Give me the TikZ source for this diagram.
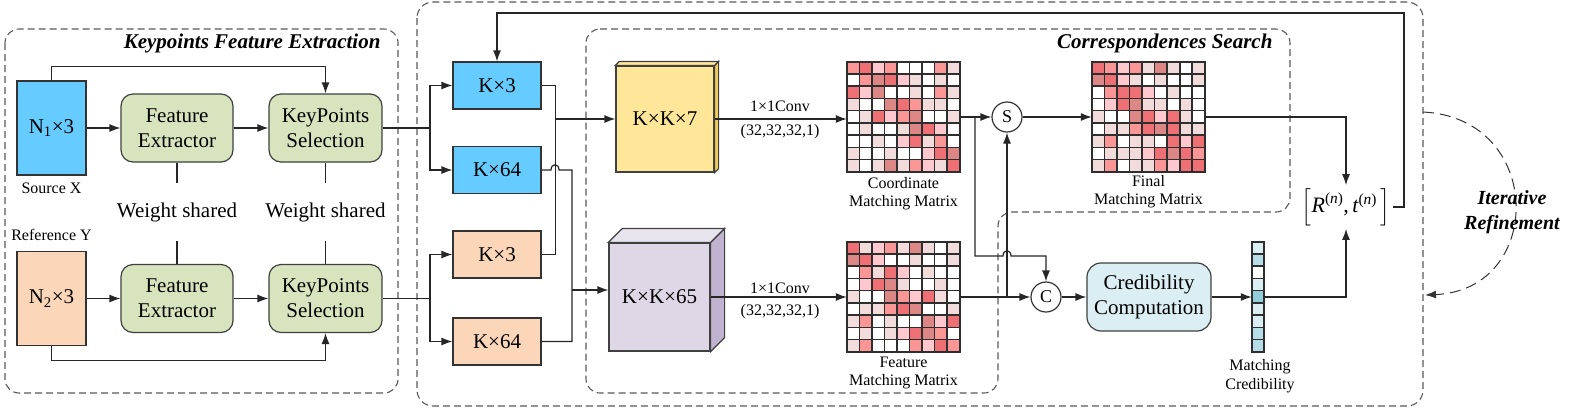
\documentclass[tikz,border=0pt]{standalone}
\usepackage{amsmath}
\usepackage{fontspec}
\setmainfont{Liberation Serif}
\usepackage{tikz}
\usetikzlibrary{arrows,arrows.meta,calc,shapes}
\tikzset{>={Latex[length=11pt,width=8pt]}}
\definecolor{srcblue}{HTML}{66CCFF}
\definecolor{refpeach}{HTML}{FBD6B8}
\definecolor{modgreen}{HTML}{D7E4BD}
\definecolor{cubeyellow}{HTML}{FFE699}
\definecolor{cubeedge}{HTML}{F2CC5C}
\definecolor{cubefront}{HTML}{DDD7E6}
\definecolor{cubeside}{HTML}{BFB3CF}
\definecolor{cubetop}{HTML}{E8E4EE}
\definecolor{credblue}{HTML}{DAEEF3}
\definecolor{heat0}{HTML}{FFFFFF}
\definecolor{heat1}{HTML}{F2DCDB}
\definecolor{heat2}{HTML}{FFC7CE}
\definecolor{heat3}{HTML}{FA9696}
\definecolor{heat4}{HTML}{EF7074}
\definecolor{heat5}{HTML}{DC8686}
\definecolor{vec0}{HTML}{FFFFFF}
\definecolor{vec1}{HTML}{DAEEF3}
\definecolor{vec2}{HTML}{B7DEE8}
\definecolor{vec3}{HTML}{92CDDC}
\tikzstyle{inbox}=[rectangle,draw=black!80,line width=1.2pt,minimum width=69pt,minimum height=94pt,font=\fontsize{21}{25}\selectfont]
\tikzstyle{module}=[rectangle,draw=black!75,fill=modgreen,line width=1.2pt,minimum width=112pt,minimum height=68pt,rounded corners=12pt,align=center,font=\fontsize{21}{25}\selectfont]
\tikzstyle{kbox}=[rectangle,draw=black!80,line width=1.2pt,minimum width=88pt,minimum height=47pt,font=\fontsize{21}{25}\selectfont]
\tikzstyle{cube}=[rectangle,draw=black!75,line width=1.2pt,font=\fontsize{21}{25}\selectfont]
\tikzstyle{group}=[draw=black!65,line width=1.1pt,dash pattern=on 7pt off 4pt,rounded corners=14pt]
\tikzstyle{op}=[circle,draw=black!80,fill=white,line width=1.2pt,minimum size=30pt,inner sep=0pt,font=\fontsize{18}{20}\selectfont]
\tikzstyle{small}=[align=center,font=\fontsize{16}{19}\selectfont]
\tikzstyle{title}=[font=\fontsize{21}{25}\selectfont\bfseries\itshape]
\tikzstyle{conn}=[draw=black!85,line width=1.2pt]
\tikzstyle{cell}=[draw=black!82,line width=1.6pt]
\tikzstyle{grid}=[rectangle,inner sep=0pt]
\newcommand{\cellgrid}[5]{%
  \foreach \row [count=\r from 0] in {#5} {
    \foreach \v [count=\c from 0] in \row
      \draw[cell,fill=#4\v] ([shift={(\c*#2,\r*#3)}]#1.north west) rectangle ++(#2,#3);
  }
}

\begin{document}
\begin{tikzpicture}[x=1pt,y=-1pt]
	\useasboundingbox (0,0) rectangle (1576,408);

	\draw[group] (5,29) rectangle (398,393);
	\draw[group,rounded corners=16pt] (417,2) rectangle (1423,406);
	\draw[group] (586,29) -- (1290,29) -- (1290,212) -- (998,212) -- (998,393) -- (586,393) -- cycle;
	\node[title,anchor=east] (title1) at (384,43) {Keypoints Feature Extraction};
	\node[title,anchor=east] (title2) at (1276,43) {Correspondences Search};

	\node[inbox,fill=srcblue,label={[small,label distance=4pt]below:Source X}] (source1) at (51.5,128) {N\textsubscript{1}×3};
	\node[inbox,fill=refpeach,label={[small,label distance=7pt]above:Reference Y}] (source2) at (51.5,298.5) {N\textsubscript{2}×3};
	\node[module] (extract1) at (177,128) {Feature\\Extractor};
	\node[module] (extract2) at (177,298.5) {Feature\\Extractor};
	\node[module,minimum width=113pt] (select1) at (325.5,128) {KeyPoints\\Selection};
	\node[module,minimum width=113pt] (select2) at (325.5,298.5) {KeyPoints\\Selection};
	\node[font=\fontsize{21}{25}\selectfont,inner ysep=19pt] (weight1) at (177,212) {Weight shared};
	\node[font=\fontsize{21}{25}\selectfont,inner ysep=19pt] (weight2) at (325.5,212) {Weight shared};

	\draw[conn,->] (source1) -- (extract1);
	\draw[conn,->] (extract1) -- (select1);
	\draw[conn,->] (source2) -- (extract2);
	\draw[conn,->] (extract2) -- (select2);
	\draw[conn,->] (source1.north) -- ++(0,-14) -| (select1.north);
	\draw[conn,->] (source2.south) -- ++(0,14) -| (select2.south);
	\draw[conn] (extract1) -- (weight1);
	\draw[conn] (weight1) -- (extract2);
	\draw[conn] (select1) -- (weight2);
	\draw[conn] (weight2) -- (select2);

	\node[kbox,fill=srcblue] (kb1) at (497,85.5) {K×3};
	\node[kbox,fill=srcblue] (kb2) at (497,170) {K×64};
	\node[kbox,fill=refpeach] (kp1) at (497,254.5) {K×3};
	\node[kbox,fill=refpeach] (kp2) at (497,341.5) {K×64};
	\coordinate (split1) at (430,128);
	\coordinate (split2) at (430,298.5);
	\draw[conn] (select1.east) -- (split1);
	\draw[conn,->] (split1) |- (kb1.west);
	\draw[conn,->] (split1) |- (kb2.west);
	\draw[conn] (select2.east) -- (split2);
	\draw[conn,->] (split2) |- (kp1.west);
	\draw[conn,->] (split2) |- (kp2.west);

	\node[cube,fill=cubeyellow,minimum width=98pt,minimum height=106pt] (cube1) at (665,119) {K×K×7};
	\draw[cube,fill=cubeedge] (cube1.north east) -- ++(4,-4) -- ($(cube1.south east)+(4,-4)$) -- (cube1.south east) -- cycle;
	\draw[cube,fill=cubeyellow] (cube1.north west) -- ++(4,-4) -- ($(cube1.north east)+(4,-4)$) -- (cube1.north east) -- cycle;
	\node[cube,fill=cubefront,minimum width=101pt,minimum height=108pt] (cube2) at (659.5,297) {K×K×65};
	\draw[cube,fill=cubeside] (cube2.north east) -- ++(14,-14) -- ($(cube2.south east)+(14,-14)$) -- (cube2.south east) -- cycle;
	\draw[cube,fill=cubetop] (cube2.north west) -- ++(14,-14) -- ($(cube2.north east)+(14,-14)$) -- (cube2.north east) -- cycle;

	\coordinate (join1) at (555,119);
	\coordinate (join2) at (572,290);
	\draw[conn] (kb1.east) -- ++(14,0) |- (kp1.east);
	\draw[conn] (kb2.east) -- (551,170) .. controls (551,163) and (559,163) .. (559,170) -- (572,170) |- (kp2.east);
	\draw[conn,->] (join1) -- (cube1.west);
	\draw[conn,->] (join2) -- (join2 -| cube2.west);

	\node[grid,minimum width=113pt,minimum height=110pt] (cmat) at (903.5,117) {};
	\node[grid,minimum width=113pt,minimum height=110pt] (fmat) at (903.5,297) {};
	\node[grid,minimum width=113pt,minimum height=110pt] (finmat) at (1148.5,117) {};
	\node[grid,minimum width=12pt,minimum height=110pt] (vec) at (1258,297) {};
	\cellgrid{cmat}{12.555}{12.222}{heat}{{3,4,2,3,0,0,0,3,1},{0,3,5,4,2,1,0,1,0},{4,2,5,0,0,1,0,3,1},{1,0,0,5,4,3,1,1,0},{0,1,4,2,3,5,0,0,1},{0,1,0,0,1,5,4,2,0},{0,0,1,0,2,4,1,3,0},{1,0,0,1,0,0,2,4,5},{1,0,1,5,1,3,2,1,4}}
	\cellgrid{fmat}{12.555}{12.222}{heat}{{4,1,2,3,1,5,1,0,1},{5,4,2,0,0,1,0,0,1},{0,3,1,4,2,0,1,0,0},{0,2,4,5,1,0,0,1,0},{1,0,0,5,3,2,4,1,0},{0,1,1,3,4,5,0,0,1},{1,3,0,1,0,0,5,2,4},{0,1,0,1,2,4,5,3,0},{1,3,0,0,0,3,2,4,3}}
	\cellgrid{finmat}{12.555}{12.222}{heat}{{4,3,2,3,1,5,1,0,1},{5,4,2,1,0,1,0,0,1},{0,3,4,4,2,0,1,0,0},{0,2,4,5,1,1,0,1,0},{1,0,0,5,4,2,4,1,0},{0,1,1,3,4,5,4,1,1},{1,3,0,1,1,0,4,2,4},{0,1,1,1,2,4,5,4,3},{1,3,0,1,1,3,2,4,4}}
	\cellgrid{vec}{12}{12.222}{vec}{{1},{2},{0},{1},{3},{1},{1},{2},{2}}
	\node[small,font=\fontsize{16}{18}\selectfont] (clabel) at (903.5,194) {Coordinate\\Matching Matrix};
	\node[small,font=\fontsize{16}{18}\selectfont] (flabel) at (903.5,373) {Feature\\Matching Matrix};
	\node[small,font=\fontsize{16}{18}\selectfont] (finlabel) at (1148.5,192) {Final\\Matching Matrix};
	\node[small,font=\fontsize{16}{19}\selectfont] (vlabel) at (1260,376) {Matching\\Credibility};

	\node[small,font=\fontsize{16}{24}\selectfont] (conv1) at (780,120) {1×1Conv\\(32,32,32,1)};
	\node[small,font=\fontsize{16}{22}\selectfont] (conv2) at (780,301) {1×1Conv\\(32,32,32,1)};
	\draw[conn,->] (cube1.east) -- (cube1.east -| cmat.west);
	\draw[conn,->] (cube2.east) -- (fmat.west);

	\node[op] (sop) at (1007,117) {S};
	\node[op] (cop) at (1046,297) {C};
	\node[module,fill=credblue,minimum width=124pt,rounded corners=14pt] (cred) at (1149,297) {Credibility\\Computation};
	\node[inner sep=3pt,font=\fontsize{22}{24}\selectfont] (rt) at (1346,207) {$\left[\textit{R}^{\text{(\textit{n})}}\text{,}\,\textit{t}^{\text{(\textit{n})}}\,\right]$};

	\coordinate (tap1) at (975,117);
	\coordinate (tap2) at (1007,297);
	\draw[conn,->] (cmat.east) -- (sop.west);
	\draw[conn,->] (tap1) -- (975,256) -- (1003,256) .. controls (1003,249) and (1011,249) .. (1011,256) -| (cop.north);
	\draw[conn,->] (fmat.east) -- (cop.west);
	\draw[conn,->] (tap2) -- (sop.south);
	\draw[conn,->] (sop.east) -- (finmat.west);
	\draw[conn,->] (cop.east) -- (cred.west);
	\draw[conn,->] (cred.east) -- (vec.west);
	\draw[conn,->] (finmat.east) -| (rt.north);
	\draw[conn,->] (vec.east) -| (rt.south);
	\coordinate (loop1) at (1404,13);
	\draw[conn,->] (rt.east) -- (rt.east -| loop1) -- (loop1) -| (kb1.north);

	\coordinate (iter1) at (1423,112);
	\coordinate (iter2) at (1425,295);
	\draw[draw=black!80,line width=1pt,dash pattern=on 11pt off 6pt,->] (iter1) .. controls (1545,118) and (1545,290) .. (iter2);
	\node[title,align=center,font=\fontsize{20}{25}\selectfont\bfseries\itshape] (iter) at (1512,212) {Iterative\\Refinement};
\end{tikzpicture}
\end{document}
